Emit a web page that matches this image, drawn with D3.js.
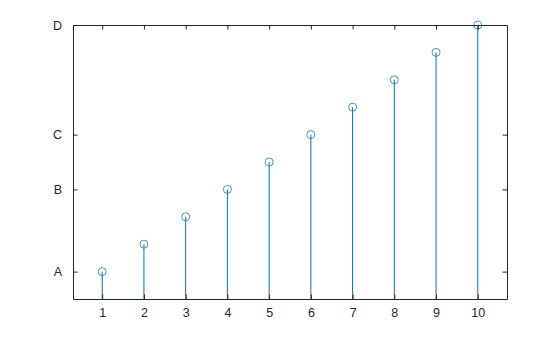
<!DOCTYPE html>
<html>
<head>
<meta charset="utf-8">
<script src="https://cdn.jsdelivr.net/npm/d3@7"></script>
<style>
  body { margin: 0; background: #fff; }
  text { font-family: "Liberation Sans", Arial, sans-serif; font-size: 12.5px; fill: #262626; }
</style>
</head>
<body>
<div id="GraphHolder"></div>
<script>
// data
var xValues = [1, 2, 3, 4, 5, 6, 7, 8, 9, 10];
var yValues = [1, 2, 3, 4, 5, 6, 7, 8, 9, 10];
var yTickValues = [1, 4, 6, 10];
var yTickLabels = ["A", "B", "C", "D"];

// dimensions and margins of the graph
var margin = {top: 25, right: 53, bottom: 38, left: 73},
    width = 560 - margin.left - margin.right,
    height = 337 - margin.top - margin.bottom;

var svg = d3.select("#GraphHolder").append("svg")
    .attr("width", 560)
    .attr("height", 337)
    .append("g")
    .attr("transform", "translate(" + margin.left + "," + margin.top + ")");

var x = d3.scaleLinear().domain([0.3, 10.7]).range([0, width]);
var y = d3.scaleLinear().domain([0, 10]).range([height, 0]);

var tick = 4.5;
var axisColor = "#262626";
var blue = "#0072BD";

// stems
svg.selectAll(".stem")
    .data(xValues)
    .enter().append("line")
    .attr("class", "stem")
    .attr("x1", function(d) { return x(d); })
    .attr("x2", function(d) { return x(d); })
    .attr("y1", y(0))
    .attr("y2", function(d, i) { return y(yValues[i]); })
    .attr("stroke", blue)
    .attr("stroke-width", 1);

// markers
svg.selectAll(".marker")
    .data(xValues)
    .enter().append("circle")
    .attr("class", "marker")
    .attr("cx", function(d) { return x(d); })
    .attr("cy", function(d, i) { return y(yValues[i]); })
    .attr("r", 4)
    .attr("fill", "none")
    .attr("stroke", blue)
    .attr("stroke-opacity", 0.75)
    .attr("stroke-width", 1);

// axes (ticks drawn inward like the original)
var xAxisBottom = d3.axisBottom(x).tickValues(xValues).tickSizeInner(-tick).tickSizeOuter(0).tickPadding(9);
var xAxisTop = d3.axisTop(x).tickValues(xValues).tickSizeInner(-tick).tickSizeOuter(0).tickFormat("");
var yAxisLeft = d3.axisLeft(y).tickValues(yTickValues)
    .tickFormat(function(d, i) { return yTickLabels[i]; })
    .tickSizeInner(-tick).tickSizeOuter(0).tickPadding(11);
var yAxisRight = d3.axisRight(y).tickValues(yTickValues).tickSizeInner(-tick).tickSizeOuter(0).tickFormat("");

svg.append("g").attr("class", "xaxis").attr("transform", "translate(0," + height + ")").call(xAxisBottom);
svg.append("g").attr("class", "xaxis").call(xAxisTop);
svg.append("g").attr("class", "yaxis").call(yAxisLeft);
svg.append("g").attr("class", "yaxis").attr("transform", "translate(" + width + ",0)").call(yAxisRight);

svg.selectAll(".xaxis, .yaxis").attr("font-family", null).attr("font-size", null);
svg.selectAll(".xaxis path, .yaxis path, .xaxis line, .yaxis line").attr("stroke", axisColor);
svg.selectAll(".xaxis text, .yaxis text").attr("fill", axisColor);
</script>
</body>
</html>
